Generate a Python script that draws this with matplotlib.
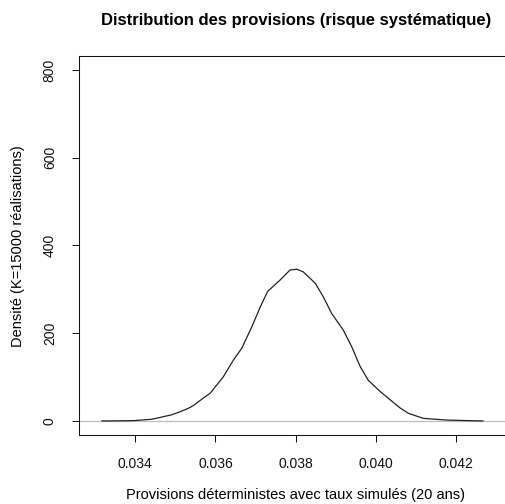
import matplotlib
matplotlib.use("Agg")
import matplotlib.pyplot as plt

plt.rcParams['font.family'] = ['Liberation Sans', 'DejaVu Sans']

# density estimate
prov = [0.03317, 0.0338, 0.0340, 0.03442, 0.03491, 0.03512, 0.03533, 0.03545,
        0.03574, 0.03587, 0.0362, 0.03645, 0.03666, 0.03691, 0.03712, 0.0373,
        0.03761, 0.03786, 0.03803, 0.03819, 0.03849, 0.03869, 0.0389, 0.03919,
        0.0394, 0.03961, 0.03981, 0.04011, 0.04036, 0.0406, 0.04081, 0.04118,
        0.04177, 0.04267]
dens = [0, 0.5, 1, 4, 14, 21, 29, 35,
        55, 63, 101, 139, 166, 215, 260, 295,
        321, 344, 346, 340, 314, 283, 245, 207,
        169, 124, 93, 67, 48, 30, 17.5, 6,
        2, 0]
xticks = [0.034, 0.036, 0.038, 0.040, 0.042]
xticklabels = ["0.034", "0.036", "0.038", "0.040", "0.042"]
yticks = [0, 200, 400, 600, 800]

fig = plt.figure(figsize=(5.05, 5.04), dpi=100)
W, H = 505, 504
ax = fig.add_axes([79 / W, (H - 435) / H, (513 - 79) / W, (435 - 56) / H])

ax.axhline(0, color="#bebebe", lw=0.9)
ax.plot(prov, dens, color="#222222", lw=0.9)

ax.set_xlim(0.0326, 0.04342)
ax.set_ylim(-32, 832)
ax.set_xticks(xticks)
ax.set_xticklabels(xticklabels)
ax.set_yticks(yticks)
ax.set_yticklabels([str(v) for v in yticks], rotation=90, va="center")
ax.tick_params(length=5, width=0.75, labelsize=10, colors="#111111")
ax.tick_params(axis="x", pad=11)
ax.tick_params(axis="y", pad=11)
for s in ax.spines.values():
    s.set_linewidth(0.75)
    s.set_color("#111111")

fig.text(296 / W, 1 - 21 / H, "Distribution des provisions (risque systématique)",
         ha="center", va="center", fontsize=12, fontweight="bold")
fig.text(296 / W, 1 - 495 / H, "Provisions déterministes avec taux simulés (20 ans)",
         ha="center", va="center", fontsize=10.5)
fig.text(18 / W, 1 - 246 / H, "Densité (K=15000 réalisations)",
         ha="center", va="center", fontsize=10.5, rotation=90)

fig.savefig("out.png", dpi=100)
